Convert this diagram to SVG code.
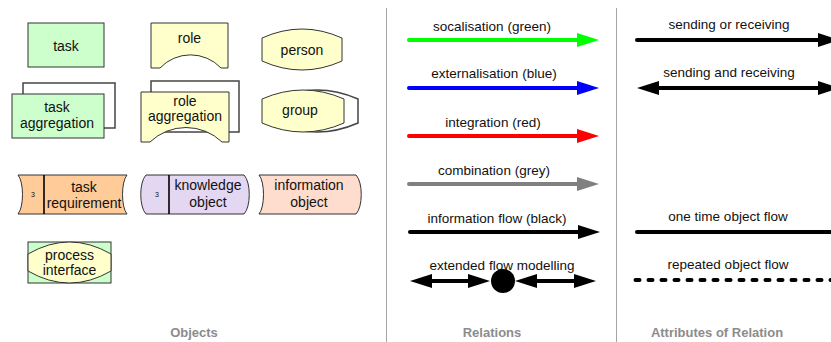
<svg xmlns="http://www.w3.org/2000/svg" width="831" height="342" viewBox="0 0 831 342">
  <style>
    text { font-family: "Liberation Sans", Arial, sans-serif; fill: #111; text-anchor: middle; }
    .obj { font-size: 14px; }
    .rel { font-size: 13.5px; }
    .idx { font-size: 7px; }
    .head { font-size: 13px; font-weight: bold; fill: #8c8c8c; }
    .sep { stroke: #a6a6a6; stroke-width: 1; }
    .shape { stroke: #333; stroke-width: 1; }
    .back { fill: #fff; stroke: #444; stroke-width: 1.5; }
    .bar { stroke: #000; stroke-width: 1.6; }
    .line { fill: none; stroke-width: 4; stroke-linecap: round; }
  </style>
  <defs>
    <marker id="ah-green" markerUnits="userSpaceOnUse" markerWidth="24" markerHeight="16" viewBox="0 -8 24 16" refX="0" refY="0" orient="auto"><path d="M0,-7 L22,0 L0,7 Z" fill="#00ff00"/></marker>
    <marker id="ah-blue" markerUnits="userSpaceOnUse" markerWidth="24" markerHeight="16" viewBox="0 -8 24 16" refX="0" refY="0" orient="auto"><path d="M0,-7 L22,0 L0,7 Z" fill="#0000ff"/></marker>
    <marker id="ah-red" markerUnits="userSpaceOnUse" markerWidth="24" markerHeight="16" viewBox="0 -8 24 16" refX="0" refY="0" orient="auto"><path d="M0,-7 L22,0 L0,7 Z" fill="#ff0000"/></marker>
    <marker id="ah-grey" markerUnits="userSpaceOnUse" markerWidth="24" markerHeight="16" viewBox="0 -8 24 16" refX="0" refY="0" orient="auto"><path d="M0,-7 L22,0 L0,7 Z" fill="#808080"/></marker>
    <marker id="ah-black" markerUnits="userSpaceOnUse" markerWidth="24" markerHeight="16" viewBox="0 -8 24 16" refX="0" refY="0" orient="auto-start-reverse"><path d="M0,-7 L22,0 L0,7 Z" fill="#000"/></marker>
  </defs>

  <!-- column separators -->
  <line class="sep" x1="386.5" y1="8" x2="386.5" y2="342"/>
  <line class="sep" x1="616.5" y1="8" x2="616.5" y2="342"/>

  <!-- Objects -->
  <g id="task">
    <rect class="shape" x="28" y="23" width="76" height="44" fill="#ccffcc"/>
    <text class="obj" x="66" y="51">task</text>
  </g>
  <g id="task-aggregation">
    <rect class="back" x="23" y="83" width="92" height="45"/>
    <rect class="shape" x="12" y="94" width="92" height="44" fill="#ccffcc"/>
    <text class="obj" x="57" y="112">task</text>
    <text class="obj" x="57" y="128">aggregation</text>
  </g>
  <g id="role">
    <path class="shape" d="M151,23 H228 V68 H221 A42,42 0 0 0 160,68 H151 Z" fill="#ffffcc"/>
    <text class="obj" x="189.5" y="43">role</text>
  </g>
  <g id="role-aggregation">
    <rect class="back" x="151" y="81" width="88" height="51"/>
    <path class="shape" d="M141,92 H229 V142 H222 A52,52 0 0 0 150,142 H141 Z" fill="#ffffcc"/>
    <text class="obj" x="185" y="106">role</text>
    <text class="obj" x="185" y="121">aggregation</text>
  </g>
  <g id="person">
    <path class="shape" d="M262,38 Q302,20 342,38 V61 Q302,79 262,61 Z" fill="#ffffcc"/>
    <text class="obj" x="302" y="55">person</text>
  </g>
  <g id="group">
    <path class="back" d="M276,99 Q317,81 358,99 V123 Q317,141 276,123 Z"/>
    <path class="shape" d="M262,99 Q303,81 344,99 V123 Q303,141 262,123 Z" fill="#ffffcc"/>
    <text class="obj" x="300" y="115">group</text>
  </g>
  <g id="task-requirement">
    <path class="shape" d="M18,175 H127 C121,182 121,207 127,214 H18 C24,207 24,182 18,175 Z" fill="#ffcc99"/>
    <line class="bar" x1="44" y1="175" x2="44" y2="214"/>
    <text class="idx" x="33" y="197">3</text>
    <text class="obj" x="84" y="192">task</text>
    <text class="obj" x="84" y="208">requirement</text>
  </g>
  <g id="knowledge-object">
    <path class="shape" d="M146,175 H244 C251,182 251,207 244,214 H146 C139,207 139,182 146,175 Z" fill="#e3d7f2"/>
    <line class="bar" x1="169" y1="175" x2="169" y2="214"/>
    <text class="idx" x="157" y="197">3</text>
    <text class="obj" x="208" y="190">knowledge</text>
    <text class="obj" x="208" y="207">object</text>
  </g>
  <g id="information-object">
    <path class="shape" d="M259,175 H356 C363,182 363,207 356,214 H259 C265,207 265,182 259,175 Z" fill="#fedcce"/>
    <text class="obj" x="309" y="190">information</text>
    <text class="obj" x="309" y="207">object</text>
  </g>
  <g id="process-interface">
    <rect class="shape" x="28" y="242" width="83" height="41" fill="#ccffcc"/>
    <path class="shape" d="M28,254 Q69.5,230 111,254 V271 Q69.5,295 28,271 Z" fill="#ffffcc"/>
    <text class="obj" x="69.5" y="260">process</text>
    <text class="obj" x="69.5" y="275">interface</text>
  </g>

  <!-- Relations and attributes -->
  <g id="connectors">
    <line class="line" x1="409" y1="40" x2="577" y2="40" stroke="#00ff00" marker-end="url(#ah-green)"/>
    <line class="line" x1="409" y1="88" x2="577" y2="88" stroke="#0000ff" marker-end="url(#ah-blue)"/>
    <line class="line" x1="409" y1="136" x2="577" y2="136" stroke="#ff0000" marker-end="url(#ah-red)"/>
    <line class="line" x1="409" y1="184" x2="577" y2="184" stroke="#808080" marker-end="url(#ah-grey)"/>
    <line class="line" x1="410" y1="232" x2="578" y2="232" stroke="#000" marker-end="url(#ah-black)"/>
    <line class="line" x1="432" y1="281" x2="468" y2="281" stroke="#000" stroke-linecap="butt" marker-start="url(#ah-black)" marker-end="url(#ah-black)"/>
    <circle cx="503" cy="281" r="12" fill="#000"/>
    <line class="line" x1="537" y1="281" x2="574" y2="281" stroke="#000" stroke-linecap="butt" marker-start="url(#ah-black)" marker-end="url(#ah-black)"/>

    <line class="line" x1="637" y1="40" x2="818" y2="40" stroke="#000" marker-end="url(#ah-black)"/>
    <line class="line" x1="659" y1="88" x2="818" y2="88" stroke="#000" stroke-linecap="butt" marker-start="url(#ah-black)" marker-end="url(#ah-black)"/>
    <line class="line" x1="637" y1="232" x2="840" y2="232" stroke="#000"/>
    <line class="line" x1="635.5" y1="280" x2="840" y2="280" stroke="#000" stroke-width="5" stroke-dasharray="4 9"/>
  </g>

  <!-- relation labels -->
  <text class="rel" x="492" y="31">socalisation (green)</text>
  <text class="rel" x="494" y="78">externalisation (blue)</text>
  <text class="rel" x="493" y="127">integration (red)</text>
  <text class="rel" x="494" y="175">combination (grey)</text>
  <text class="rel" x="497" y="223">information flow (black)</text>
  <text class="rel" x="502" y="270">extended flow modelling</text>

  <text class="rel" x="729" y="29">sending or receiving</text>
  <text class="rel" x="729" y="77">sending and receiving</text>
  <text class="rel" x="728" y="221">one time object flow</text>
  <text class="rel" x="728" y="269">repeated object flow</text>

  <!-- column headings -->
  <text class="head" x="194" y="337">Objects</text>
  <text class="head" x="492" y="337">Relations</text>
  <text class="head" x="717" y="337">Attributes of Relation</text>
</svg>
